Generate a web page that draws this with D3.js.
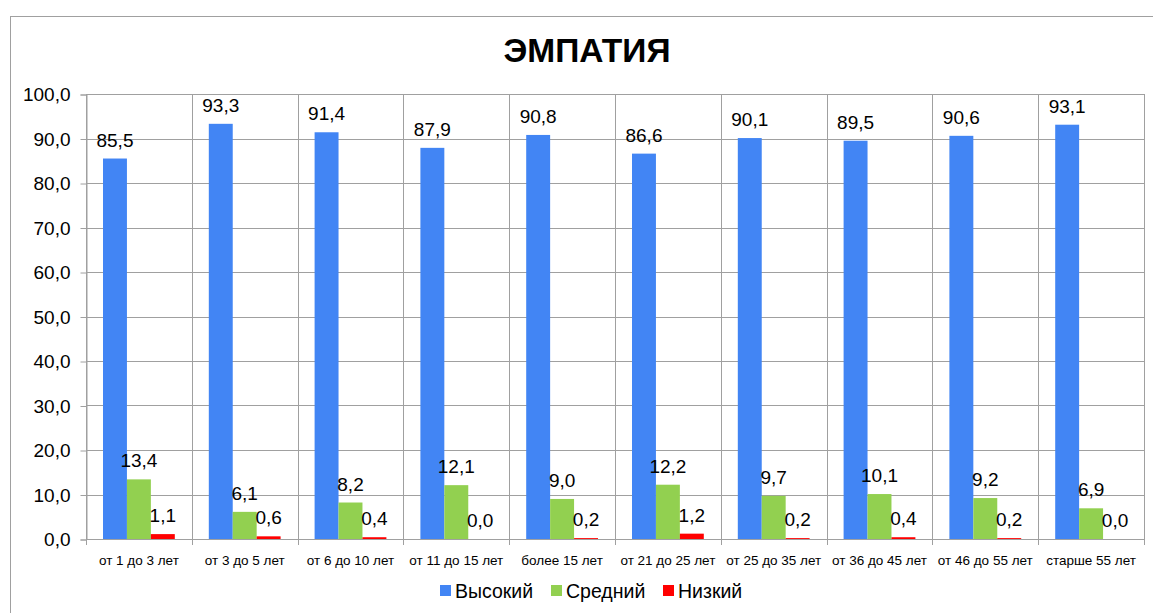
<!DOCTYPE html>
<html>
<head>
<meta charset="utf-8">
<script src="https://cdn.jsdelivr.net/npm/d3@7"></script>
<style>
  body { margin: 0; background: #fff; }
  text { font-family: "Liberation Sans", Arial, sans-serif; }
</style>
</head>
<body>
<svg id="chart" width="1153" height="613"></svg>
<script>
// data
const categories = ["от 1 до 3 лет", "от 3 до 5 лет", "от 6 до 10 лет", "от 11 до 15 лет", "более 15 лет",
                    "от 21 до 25 лет", "от 25 до 35 лет", "от 36 до 45 лет", "от 46 до 55 лет", "старше 55 лет"];
const seriesNames = ["Высокий", "Средний", "Низкий"];
const highValues = [85.5, 93.3, 91.4, 87.9, 90.8, 86.6, 90.1, 89.5, 90.6, 93.1];
const midValues  = [13.4, 6.1, 8.2, 12.1, 9.0, 12.2, 9.7, 10.1, 9.2, 6.9];
const lowValues  = [1.1, 0.6, 0.4, 0.0, 0.2, 1.2, 0.2, 0.4, 0.2, 0.0];
const yTicks = [0, 10, 20, 30, 40, 50, 60, 70, 80, 90, 100];
const colors = ["#4285f4", "#92d050", "#ff0000"];

const svg = d3.select("#chart");
const plot = {left: 86, top: 94, right: 1144, bottom: 539};
const gridColor = "#a0a0a0";

const fmt = v => d3.format(".1f")(v).replace(".", ",");

// outer chart frame (clipped on right/bottom like the source)
svg.append("rect")
  .attr("x", 10.5).attr("y", 16.5)
  .attr("width", 1200).attr("height", 700)
  .attr("fill", "none").attr("stroke", "#a0a0a0");

// title
svg.append("text")
  .attr("x", 587).attr("y", 62)
  .attr("text-anchor", "middle")
  .style("font-size", "33.5px").style("font-weight", "bold")
  .text("ЭМПАТИЯ");

const x0 = d3.scaleBand().domain(categories).range([plot.left, plot.right]).padding(0);
const bw = x0.bandwidth();
const x1 = d3.scaleBand().domain(seriesNames).range([17, bw - 17]).padding(0);
const y = d3.scaleLinear().domain([0, 100]).range([plot.bottom, plot.top]);

// horizontal gridlines
svg.append("g").selectAll("line").data(yTicks).join("line")
  .attr("x1", plot.left).attr("x2", plot.right)
  .attr("y1", d => Math.round(y(d)) + 0.5).attr("y2", d => Math.round(y(d)) + 0.5)
  .attr("stroke", gridColor);

// vertical gridlines at category boundaries
const bounds = categories.map(c => x0(c)).concat([plot.right]);
svg.append("g").selectAll("line").data(bounds).join("line")
  .attr("x1", d => Math.round(d) + 0.5).attr("x2", d => Math.round(d) + 0.5)
  .attr("y1", plot.top).attr("y2", plot.bottom + 6)
  .attr("stroke", gridColor);

// y axis
const yAxis = d3.axisLeft(y).tickValues(yTicks).tickSize(6).tickPadding(10).tickFormat(fmt);
svg.append("g")
  .attr("transform", `translate(${plot.left + 0.5},0.5)`)
  .call(yAxis)
  .call(g => g.select(".domain").attr("stroke", gridColor))
  .call(g => g.selectAll(".tick line").attr("stroke", gridColor))
  .call(g => g.selectAll(".tick text")
    .style("font-size", "19px").attr("fill", "#000")
    .style("font-family", "'Liberation Sans', Arial, sans-serif"));

// x axis labels
const xAxis = d3.axisBottom(x0).tickSize(0).tickPadding(16);
svg.append("g")
  .attr("transform", `translate(0,${plot.bottom})`)
  .call(xAxis)
  .call(g => g.select(".domain").remove())
  .call(g => g.selectAll(".tick text")
    .style("font-size", "13.5px").attr("fill", "#000")
    .style("font-family", "'Liberation Sans', Arial, sans-serif"));

// bars
const rows = categories.map((c, i) => ({cat: c, vals: [highValues[i], midValues[i], lowValues[i]]}));
const groups = svg.append("g").selectAll("g").data(rows).join("g")
  .attr("transform", d => `translate(${x0(d.cat)},0)`);

groups.selectAll("rect")
  .data(d => d.vals.map((v, k) => ({name: seriesNames[k], v: v, k: k})))
  .join("rect")
  .attr("x", d => x1(d.name))
  .attr("width", x1.bandwidth())
  .attr("y", d => y(d.v))
  .attr("height", d => plot.bottom - y(d.v))
  .attr("fill", d => colors[d.k]);

groups.selectAll("text.val")
  .data(d => d.vals.map((v, k) => ({name: seriesNames[k], v: v, k: k})))
  .join("text")
  .attr("class", "val")
  .attr("x", d => x1(d.name) + x1.bandwidth() / 2)
  .attr("y", d => y(d.v) - 12)
  .attr("text-anchor", "middle")
  .style("font-size", "19px")
  .text(d => fmt(d.v));

// legend
const legendX = [440, 551, 663];
const legend = svg.append("g").selectAll("g").data(seriesNames).join("g")
  .attr("transform", (d, i) => `translate(${legendX[i]},585)`);
legend.append("rect").attr("width", 11).attr("height", 11).attr("fill", (d, i) => colors[i]);
legend.append("text").attr("x", 15).attr("y", 13)
  .style("font-size", "19.5px").text(d => d);
</script>
</body>
</html>
